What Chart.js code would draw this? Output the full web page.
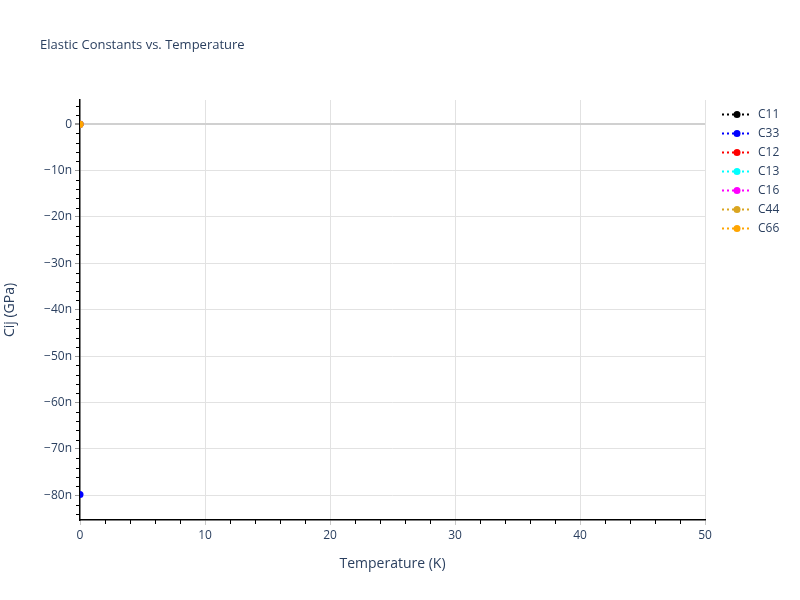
<!DOCTYPE html>
<html>
<head>
<meta charset="utf-8">
<script src="https://cdn.jsdelivr.net/npm/chart.js@4"></script>
<style>
html,body{margin:0;padding:0;background:#fff;}
#wrap{width:800px;height:600px;position:relative;}
</style>
</head>
<body>
<div id="wrap"><canvas id="c" width="800" height="600"></canvas></div>
<script>
// ---- data ----
const seriesNames = ['C11', 'C33', 'C12', 'C13', 'C16', 'C44', 'C66'];
const temperatures = [0];
const C11 = [0];
const C33 = [-79.8e-9];
const C12 = [0];
const C13 = [0];
const C16 = [0];
const C44 = [0];
const C66 = [0];
const yTickValues = [0, -10e-9, -20e-9, -30e-9, -40e-9, -50e-9, -60e-9, -70e-9, -80e-9];
const xTickValues = [0, 10, 20, 30, 40, 50];
const seriesColors = ['#000000', '#0000ff', '#ff0000', '#00ffff', '#ff00ff', '#daa520', '#ffa500'];

const seriesValues = [C11, C33, C12, C13, C16, C44, C66];
const FONT = '"Open Sans", verdana, arial, sans-serif';
const TXT = '#2a3f5f';

const datasets = seriesNames.map((n, i) => ({
  label: n,
  data: temperatures.map((t, j) => ({x: t, y: seriesValues[i][j]})),
  order: seriesNames.length - 1 - i,
  borderColor: seriesColors[i],
  backgroundColor: seriesColors[i],
  borderDash: [2, 3],
  borderWidth: 2,
  pointRadius: 3.5,
  pointHoverRadius: 3.5,
  pointBorderWidth: 0,
  showLine: true
}));

function fmtN(v) {
  const n = Math.round(v * 1e9);
  if (n === 0) return '0';
  return (n < 0 ? '\u2212' + Math.abs(n) : String(n)) + 'n';
}

const extras = {
  id: 'extras',
  afterDraw(chart) {
    const ctx = chart.ctx;
    const xs = chart.scales.x, ys = chart.scales.y;
    const ca = chart.chartArea;
    ctx.save();
    // minor ticks
    ctx.strokeStyle = '#000';
    ctx.lineWidth = 1;
    ctx.beginPath();
    for (let v = 2; v < 50; v += 2) {
      if (v % 10 === 0) continue;
      const px = Math.round(xs.getPixelForValue(v)) + 0.5;
      ctx.moveTo(px, ca.bottom);
      ctx.lineTo(px, ca.bottom + 4);
    }
    for (let k = -4; k <= 84; k += 2) {
      if (k % 10 === 0) continue;
      const py = Math.round(ys.getPixelForValue(-k * 1e-9)) + 0.5;
      ctx.moveTo(ca.left, py);
      ctx.lineTo(ca.left - 4, py);
    }
    ctx.stroke();
    // title
    ctx.fillStyle = TXT;
    ctx.font = '13px ' + FONT;
    ctx.textAlign = 'left';
    ctx.textBaseline = 'middle';
    ctx.fillText('Elastic Constants vs. Temperature', 40, 45);
    // legend
    chart.data.datasets.forEach((ds, i) => {
      const y = 114.5 + i * 19;
      ctx.strokeStyle = ds.borderColor;
      ctx.lineWidth = 2;
      ctx.setLineDash([2, 3]);
      ctx.beginPath();
      ctx.moveTo(722, y);
      ctx.lineTo(752, y);
      ctx.stroke();
      ctx.setLineDash([]);
      ctx.fillStyle = ds.backgroundColor;
      ctx.beginPath();
      ctx.arc(737, y, 3.5, 0, Math.PI * 2);
      ctx.fill();
      ctx.fillStyle = TXT;
      ctx.font = '12px ' + FONT;
      ctx.textAlign = 'left';
      ctx.textBaseline = 'middle';
      ctx.fillText(ds.label, 758, y);
    });
    ctx.restore();
  }
};

new Chart(document.getElementById('c'), {
  type: 'scatter',
  data: {datasets},
  options: {
    responsive: false,
    animation: false,
    devicePixelRatio: 1,
    layout: {padding: {left: 0, top: 100, right: 95, bottom: 0}},
    plugins: {legend: {display: false}, title: {display: false}, tooltip: {enabled: false}},
    scales: {
      x: {
        type: 'linear',
        min: 0, max: 50,
        afterFit(s) { s.height = 80; },
        afterBuildTicks(s) { s.ticks = xTickValues.map(v => ({value: v})); },
        border: {display: true, color: '#000', width: 1.5},
        grid: {
          color: (c) => c.tick && c.tick.value === 0 ? 'rgba(0,0,0,0)' : '#e2e2e2',
          lineWidth: 1,
          drawTicks: true,
          tickLength: 5,
          tickColor: '#c8c8c8'
        },
        ticks: {color: TXT, font: {family: FONT, size: 12}, padding: 3, maxRotation: 0,
          callback: (v) => String(v)},
        title: {display: true, text: 'Temperature (K)', color: TXT,
          font: {family: FONT, size: 14}, padding: {top: 0, bottom: 28}}
      },
      y: {
        type: 'linear',
        min: -85.3e-9, max: 5.2e-9,
        afterFit(s) { s.width = 80; },
        afterBuildTicks(s) { s.ticks = yTickValues.map(v => ({value: v})); },
        border: {display: true, color: '#000', width: 1.5},
        grid: {
          color: (c) => c.tick && c.tick.value === 0 ? '#d0d0d0' : '#e2e2e2',
          lineWidth: (c) => c.tick && c.tick.value === 0 ? 2 : 1,
          drawTicks: true,
          tickLength: 5,
          tickColor: '#999'
        },
        ticks: {color: TXT, font: {family: FONT, size: 12}, padding: 3,
          callback: (v) => fmtN(v)},
        title: {display: true, text: 'Cij (GPa)', color: TXT,
          font: {family: FONT, size: 14}, padding: {top: 2, bottom: 0}}
      }
    }
  },
  plugins: [extras]
});
</script>
</body>
</html>
